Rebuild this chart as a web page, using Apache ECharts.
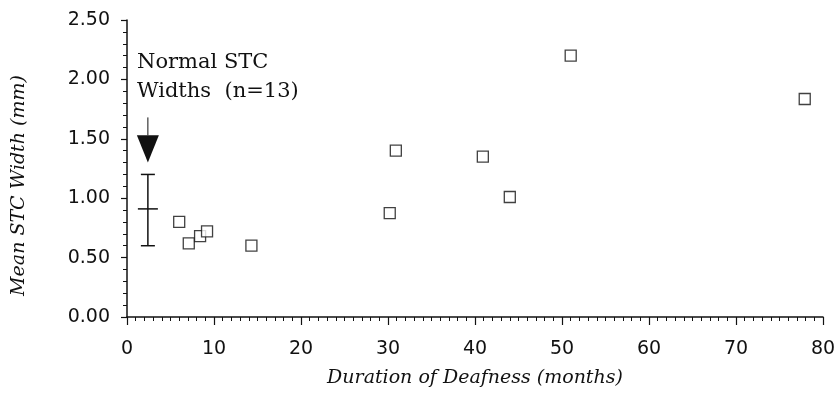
<!DOCTYPE html>
<html>
<head>
<meta charset="utf-8">
<script src="https://cdn.jsdelivr.net/npm/echarts@6/dist/echarts.min.js"></script>
<style>
  html, body { margin: 0; padding: 0; background: #fff; }
  #chart { width: 839px; height: 414px; }
</style>
</head>
<body>
<div id="chart"></div>
<script>
// duration of deafness (months) vs mean STC width (mm)
const durationMonths = [6.0, 7.1, 8.4, 9.2, 14.3, 30.2, 30.9, 40.9, 44.0, 51.0, 77.9];
const meanWidths = [0.80, 0.62, 0.68, 0.72, 0.60, 0.875, 1.40, 1.35, 1.01, 2.20, 1.835];

// normal STC widths: x, mean, low, high
const normalBar = [[2.4, 0.91, 0.60, 1.20]];
// arrow: x, tail, head start, tip
const arrowData = [[2.4, 1.68, 1.53, 1.30]];

const xTicks = [0, 10, 20, 30, 40, 50, 60, 70, 80];
const yTicks = [0, 0.5, 1.0, 1.5, 2.0, 2.5];

const INK = "#111";
const SERIF = "'DejaVu Serif', serif";
const SANS = "'DejaVu Sans', sans-serif";

const chart = echarts.init(document.getElementById("chart"), null, { renderer: "canvas" });

function renderErrorBar(params, api) {
  const x = api.value(0);
  const mid = api.coord([x, api.value(1)]);
  const lo = api.coord([x, api.value(2)]);
  const hi = api.coord([x, api.value(3)]);
  const style = { stroke: INK, lineWidth: 1.5 };
  return {
    type: "group",
    children: [
      { type: "line", shape: { x1: lo[0], y1: lo[1], x2: hi[0], y2: hi[1] }, style },
      { type: "line", shape: { x1: lo[0] - 7, y1: lo[1], x2: lo[0] + 7, y2: lo[1] }, style },
      { type: "line", shape: { x1: hi[0] - 7, y1: hi[1], x2: hi[0] + 7, y2: hi[1] }, style },
      { type: "line", shape: { x1: mid[0] - 10, y1: mid[1], x2: mid[0] + 10, y2: mid[1] }, style },
    ],
  };
}

function renderArrow(params, api) {
  const x = api.value(0);
  const tail = api.coord([x, api.value(1)]);
  const base = api.coord([x, api.value(2)]);
  const tip = api.coord([x, api.value(3)]);
  return {
    type: "group",
    children: [
      {
        type: "line",
        shape: { x1: tail[0], y1: tail[1], x2: base[0], y2: base[1] },
        style: { stroke: INK, lineWidth: 1 },
      },
      {
        type: "polygon",
        shape: { points: [[base[0] - 11, base[1]], [base[0] + 11, base[1]], [tip[0], tip[1]]] },
        style: { fill: INK },
      },
    ],
  };
}

chart.setOption({
  animation: false,
  backgroundColor: "#fff",
  grid: { left: 127, right: 16, top: 20, bottom: 97 },
  xAxis: {
    type: "value",
    min: xTicks[0],
    max: xTicks[xTicks.length - 1],
    interval: 10,
    name: "Duration of Deafness (months)",
    nameLocation: "middle",
    nameGap: 52,
    nameTextStyle: { fontFamily: SERIF, fontStyle: "italic", fontSize: 19, color: INK },
    axisLine: { lineStyle: { color: INK, width: 1.5 } },
    axisTick: { length: 8, lineStyle: { color: INK, width: 1.2 } },
    minorTick: { show: true, splitNumber: 10, length: 4, lineStyle: { color: INK, width: 1 } },
    axisLabel: { fontFamily: SANS, fontSize: 19, color: INK, margin: 23 },
    splitLine: { show: false },
  },
  yAxis: {
    type: "value",
    min: yTicks[0],
    max: yTicks[yTicks.length - 1],
    interval: 0.5,
    name: "Mean STC Width (mm)",
    nameLocation: "middle",
    nameGap: 98,
    nameTextStyle: { fontFamily: SERIF, fontStyle: "italic", fontSize: 19, color: INK, padding: [0, 0, 0, -34] },
    axisLine: { lineStyle: { color: INK, width: 1.5 } },
    axisTick: { length: 6, lineStyle: { color: INK, width: 1.2 } },
    minorTick: { show: true, splitNumber: 5, length: 4, lineStyle: { color: INK, width: 1 } },
    axisLabel: {
      fontFamily: SANS,
      fontSize: 19,
      color: INK,
      margin: 17,
      formatter: (v) => v.toFixed(2),
    },
    splitLine: { show: false },
  },
  series: [
    {
      type: "scatter",
      symbol: "rect",
      symbolSize: 11,
      itemStyle: { color: "#fff", borderColor: INK, borderWidth: 1.3 },
      data: durationMonths.map((d, i) => [d, meanWidths[i]]),
      z: 3,
    },
    {
      type: "custom",
      renderItem: renderErrorBar,
      data: normalBar,
      z: 2,
    },
    {
      type: "custom",
      renderItem: renderArrow,
      data: arrowData,
      z: 2,
    },
  ],
  graphic: [
    {
      type: "text",
      left: 137,
      top: 48,
      style: {
        text: "Normal STC\nWidths  (n=13)",
        fontFamily: SERIF,
        fontSize: 21,
        lineHeight: 29,
        fill: INK,
      },
    },
  ],
});
</script>
</body>
</html>
